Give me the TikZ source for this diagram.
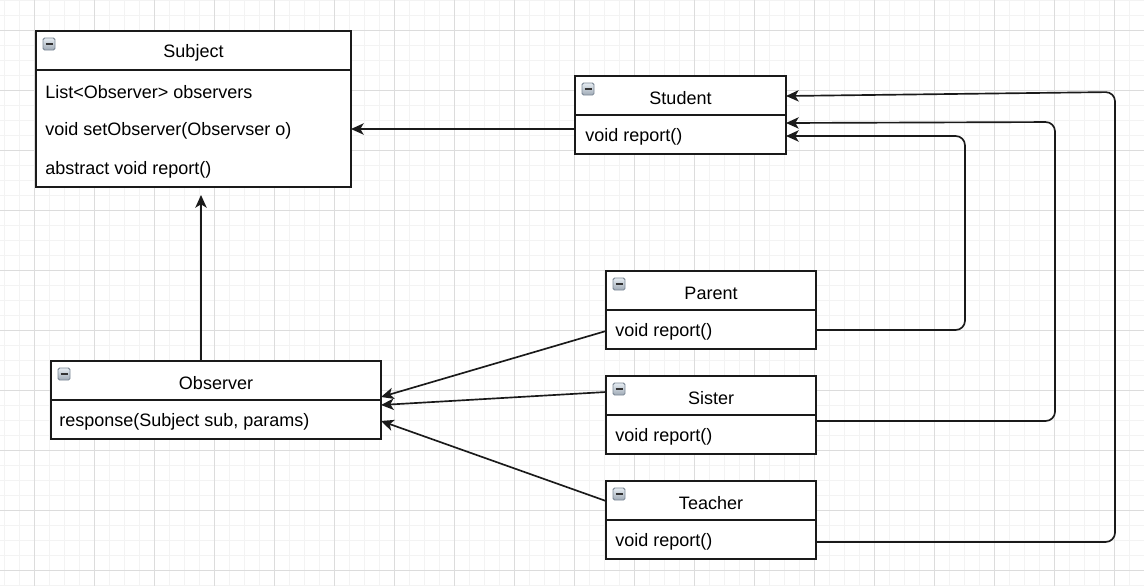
\documentclass[tikz,border=0pt]{standalone}
\usepackage{fontspec}
\setmainfont{Liberation Sans}
\usetikzlibrary{arrows.meta,calc}
\definecolor{minorgrid}{HTML}{F3F3F3}
\definecolor{majorgrid}{HTML}{DCDCDC}
\definecolor{ink}{HTML}{1A1A1A}
\definecolor{icontop}{HTML}{E6ECF2}
\definecolor{iconbot}{HTML}{9FAAB6}
\definecolor{iconedge}{HTML}{7C8896}
\tikzset{
  mgrid/.style={draw=minorgrid, line width=0.75pt},
  Mgrid/.style={draw=majorgrid, line width=0.75pt},
  cls/.style={draw=ink, line width=1.2pt, fill=white, inner sep=0pt, outer sep=0pt, anchor=north west},
  divider/.style={draw=ink, line width=1.2pt},
  ttl/.style={font=\fontsize{13.5pt}{16pt}\selectfont, inner sep=0pt, anchor=center, text=black},
  row/.style={font=\fontsize{13.5pt}{16pt}\selectfont, inner sep=0pt, anchor=west, text=black},
  arr/.style={draw=ink, line width=1.25pt, -{Stealth[length=9.5pt,width=8.5pt,inset=2.5pt]}},
  elbow/.style={arr, rounded corners=7pt},
  iconbox/.style={draw=iconedge, line width=0.7pt, top color=icontop, bottom color=iconbot, rounded corners=1.2pt},
  iconminus/.style={draw=black!80, line width=1.6pt},
}
\begin{document}
\begin{tikzpicture}[x=0.75pt,y=-0.75pt]
\useasboundingbox (0,0) rectangle (1144,586);
\fill[white] (0,0) rectangle (1144,586);
% grid
\foreach \x in {4,19,...,1144} \draw[mgrid] (\x,0) -- (\x,586);
\foreach \y in {0,15,...,586} \draw[mgrid] (0,\y) -- (1144,\y);
\foreach \x in {34,94,...,1144} \draw[Mgrid] (\x,0) -- (\x,586);
\foreach \y in {30,90,...,586} \draw[Mgrid] (0,\y) -- (1144,\y);

% Subject
\node[cls, minimum width=236.25pt, minimum height=117pt] (subject) at (36,31) {};
\draw[divider] (36,70) -- (351,70);
\node[ttl] (subjectT) at (193.5,53) {Subject};
\node[row] (srow1) at (45,92) {List<Observer> observers};
\node[row] (srow2) at (45,131) {void setObserver(Observser o)};
\node[row] (srow3) at (45,170) {abstract void report()};

% Student
\node[cls, minimum width=158.25pt, minimum height=58.5pt] (student) at (575,76) {};
\draw[divider] (575,115) -- (786,115);
\node[ttl] (studentT) at (680.5,98) {Student};
\node[row] (strow) at (585,137) {void report()};

% Observer
\node[cls, minimum width=247.5pt, minimum height=58.5pt] (observer) at (51,361) {};
\draw[divider] (51,400) -- (381,400);
\node[ttl] (observerT) at (216,383) {Observer};
\node[row] (orow) at (59,422) {response(Subject sub, params)};

% Parent
\node[cls, minimum width=157.5pt, minimum height=58.5pt] (parent) at (606,271) {};
\draw[divider] (606,310) -- (816,310);
\node[ttl] (parentT) at (711,293) {Parent};
\node[row] (prow) at (615,332) {void report()};

% Sister
\node[cls, minimum width=157.5pt, minimum height=58.5pt] (sister) at (606,376) {};
\draw[divider] (606,415) -- (816,415);
\node[ttl] (sisterT) at (711,398) {Sister};
\node[row] (sirow) at (615,437) {void report()};

% Teacher
\node[cls, minimum width=157.5pt, minimum height=58.5pt] (teacher) at (606,481) {};
\draw[divider] (606,520) -- (816,520);
\node[ttl] (teacherT) at (711,503) {Teacher};
\node[row] (trow) at (615,542) {void report()};

% icons
\foreach \n in {subject,student,observer,parent,sister,teacher}{
  \draw[iconbox] ($(\n.north west)+(7,7)$) rectangle ($(\n.north west)+(19,19)$);
  \draw[iconminus] ($(\n.north west)+(9.5,13)$) -- ($(\n.north west)+(16.5,13)$);
}

% connectors
\coordinate (stuSub) at (575,129);
\draw[arr] (student.west |- stuSub) -- (subject.east |- stuSub);
\coordinate (subjIn) at (201,195);
\draw[arr] (observer.north -| subjIn) -- (subjIn);

\coordinate (obsP) at (381,397);
\coordinate (obsS) at (381,405);
\coordinate (obsT) at (381,421);
\coordinate (parOut) at (606,331);
\coordinate (sisOut) at (606,392);
\coordinate (teaOut) at (606,501);
\draw[arr] (parent.west |- parOut) -- (observer.east |- obsP);
\draw[arr] (sister.west |- sisOut) -- (observer.east |- obsS);
\draw[arr] (teacher.west |- teaOut) -- (observer.east |- obsT);

\coordinate (bendP) at (965,136);
\coordinate (bendS) at (1055,122);
\coordinate (bendT) at (1115,92);
\coordinate (stuS) at (786,123);
\coordinate (stuT) at (786,96);
\coordinate (parRow) at (816,330);
\coordinate (sisRow) at (816,421);
\coordinate (teaRow) at (816,542);
\draw[elbow] (parent.east |- parRow) -| (bendP) -- (student.east |- bendP);
\draw[elbow] (sister.east |- sisRow) -| (bendS) -- (student.east |- stuS);
\draw[elbow] (teacher.east |- teaRow) -| (bendT) -- (student.east |- stuT);
\end{tikzpicture}
\end{document}
